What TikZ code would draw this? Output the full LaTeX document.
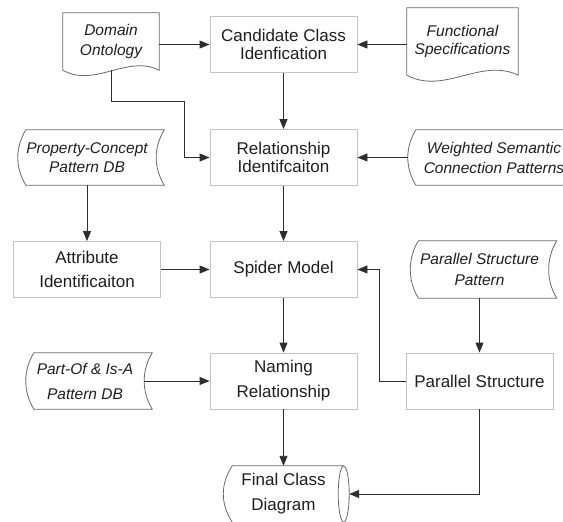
\documentclass[tikz,border=0pt]{standalone}
\usepackage{fontspec}
\setmainfont{Liberation Sans}
\usepackage{tikz}
\usetikzlibrary{arrows.meta}

\definecolor{boxline}{RGB}{195,195,195}
\definecolor{dataline}{RGB}{105,105,105}
\definecolor{connline}{RGB}{45,45,45}
\definecolor{txt}{RGB}{30,30,30}

\newcommand{\boxfont}[1]{\fontsize{17}{#1}\selectfont}
\newcommand{\datfont}[1]{\fontsize{15.5}{#1}\selectfont\itshape}

\tikzset{
  procbox/.style={draw=boxline, line width=0.9pt, minimum width=147pt, minimum height=56pt,
    inner sep=0pt, align=center, text=txt, font=\boxfont{19}},
  datnode/.style={inner sep=0pt, align=center, text=txt, font=\datfont{19}},
  datline/.style={draw=dataline, line width=0.8pt},
  conn/.style={draw=connline, line width=0.9pt, -{Triangle[length=10pt,width=8pt]}},
}

\begin{document}
\begin{tikzpicture}[x=1pt, y=-1pt]
    \useasboundingbox (0,0) rectangle (563,522);

    % process steps
    \node[procbox, font=\boxfont{17.5}] at (283.5, 44.5)  (ccid) {Candidate Class\\Idenfication};
    \node[procbox, font=\boxfont{18.5}] at (283.5, 157.5) (rid)  {Relationship\\Identifcaiton};
    \node[procbox]                      at (283.5, 269.5) (spm)  {Spider Model};
    \node[procbox, font=\boxfont{25}]   at (283.5, 381)   (nrel) {Naming\\Relationship};
    \node[procbox, font=\boxfont{24}]   at (87, 269.5)    (aid)  {Attribute\\Identificaiton};
    \node[procbox]                      at (479.5, 381)   (pstr) {Parallel Structure};

    % inputs
    \node[datnode, minimum width=96pt, minimum height=57pt, font=\datfont{20}]
        at (111, 41.5) (dom) {Domain\\Ontology};
    \node[datnode, minimum width=111pt, minimum height=67pt, font=\datfont{18.5}]
        at (462.5, 41.5) (fsp) {Functional\\Specifications};
    \node[datnode, minimum width=138pt, minimum height=55pt, font=\datfont{18.5}]
        at (87, 157.5) (pcdb) {Property-Concept\\Pattern DB};
    \node[datnode, minimum width=172pt, minimum height=55pt, font=\datfont{20}]
        at (494, 157.5) (wscp) {Weighted Semantic\\Connection Patterns};
    \node[datnode, minimum width=138pt, minimum height=57pt, font=\datfont{21.5}]
        at (479.5, 269.5) (pspat) {Parallel Structure\\Pattern};
    \node[datnode, minimum width=118pt, minimum height=56pt, font=\datfont{25}]
        at (85, 381) (poisa) {Part-Of \& Is-A\\Pattern DB};

    % output
    \node[datnode, minimum width=120pt, minimum height=56pt, font=\boxfont{25}]
        at (283.5, 494) (fcd) {Final Class\\Diagram};

    % document outlines
    \draw[datline] (dom.north west) -- (dom.north east) -- (dom.south east)
        .. controls +(-32,-16) and +(32,18) .. (dom.south west) -- cycle;
    \draw[datline] (fsp.north west) -- (fsp.north east) -- (fsp.south east)
        .. controls +(-37,-18) and +(37,20) .. (fsp.south west) -- cycle;

    % stored data outlines
    \foreach \n in {pcdb, wscp, pspat, poisa}
        \draw[datline] ([xshift=8pt]\n.north west) -- ([xshift=8pt]\n.north east)
            .. controls +(-10.7,18) and +(-10.7,-18) .. ([xshift=8pt]\n.south east)
            -- ([xshift=8pt]\n.south west)
            .. controls +(-10.7,-18) and +(-10.7,18) .. ([xshift=8pt]\n.north west) -- cycle;

    % cylinder
    \draw[datline] ([xshift=9pt]fcd.south west) -- (fcd.south east);
    \draw[datline] (fcd.north east) -- ([xshift=9pt]fcd.north west)
        .. controls +(-12,18) and +(-12,-18) .. ([xshift=9pt]fcd.south west);
    \draw[datline] (fcd.east) ellipse [x radius=5.5pt, y radius=28pt];

    % connectors
    \draw [conn] (dom.east |- ccid) -- (ccid.west);
    \draw [conn] (fsp.west |- ccid) -- (ccid.east);
    \draw [conn] (ccid) -- (rid);
    \draw [conn] (dom.south) -- ++(0,31) -| ([xshift=-25pt]rid.west) -- (rid.west);
    \draw [conn] (wscp.west) -- (rid.east);
    \draw [conn] (rid) -- (spm);
    \draw [conn] (pcdb.south) -- (aid.north);
    \draw [conn] (aid.east) -- (spm.west);
    \draw [conn] (pspat.south) -- (pstr.north);
    \draw [conn] (pstr.west) -- ++(-26,0) |- (spm.east);
    \draw [conn] (spm) -- (nrel);
    \draw [conn] (poisa.east) -- (nrel.west);
    \draw [conn] (nrel) -- (fcd);
    \draw [conn] (pstr.south) |- ([xshift=5.5pt]fcd.east);
\end{tikzpicture}
\end{document}
